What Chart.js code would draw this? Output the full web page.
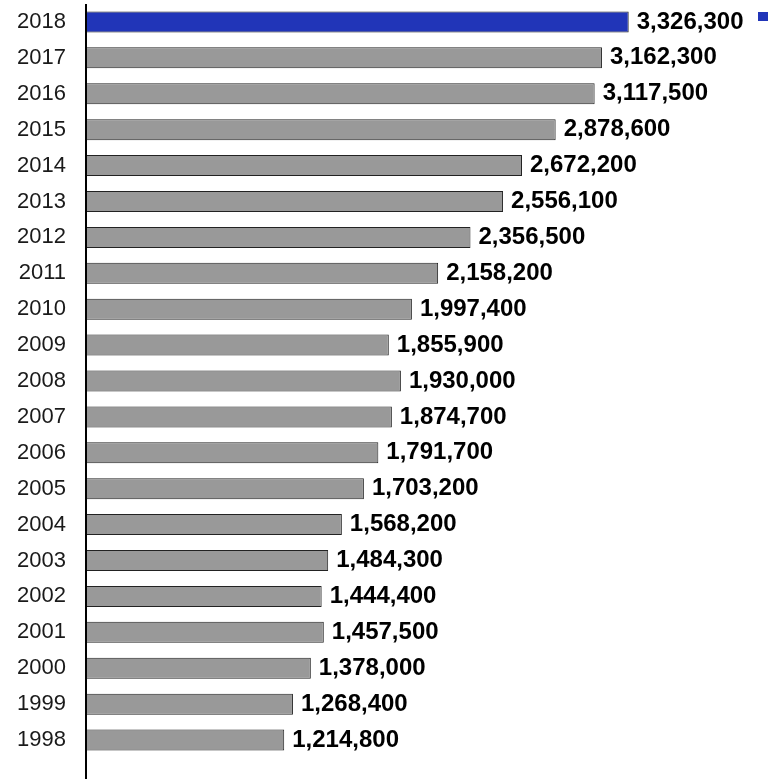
<!DOCTYPE html>
<html>
<head>
<meta charset="utf-8">
<script src="https://cdn.jsdelivr.net/npm/chart.js@4.4.1/dist/chart.umd.min.js"></script>
<style>
  body { margin: 0; background: #fff; }
  canvas { display: block; }
</style>
</head>
<body>
<canvas id="mycanvas" width="768" height="779"></canvas>
<script>
var years = ['2018','2017','2016','2015','2014','2013','2012','2011','2010','2009','2008',
             '2007','2006','2005','2004','2003','2002','2001','2000','1999','1998'];
var counts = [3326300,3162300,3117500,2878600,2672200,2556100,2356500,2158200,1997400,1855900,1930000,
              1874700,1791700,1703200,1568200,1484300,1444400,1457500,1378000,1268400,1214800];
var highlightYear = '2018';

var barColors = years.map(function(y){ return y === highlightYear ? '#2135b8' : '#999999'; });

// value labels at the end of each bar
var valueLabels = {
	id:'valueLabels',
	afterDatasetsDraw:function(chart){
		var ctx = chart.ctx;
		var meta = chart.getDatasetMeta(0);
		ctx.save();
		ctx.font = 'bold 24px "Liberation Sans", Arial, sans-serif';
		ctx.fillStyle = '#000';
		ctx.textAlign = 'left';
		ctx.textBaseline = 'middle';
		meta.data.forEach(function(bar, i){
			ctx.fillText(counts[i].toLocaleString('en-US'), bar.x + 8, bar.y);
		});
		ctx.restore();
	}
};

// axis line running down to the bottom edge + the clipped legend marker
var axisLine = {
	id:'axisLine',
	afterDraw:function(chart){
		var ctx = chart.ctx;
		var a = chart.chartArea;
		ctx.save();
		ctx.strokeStyle = '#000';
		ctx.lineWidth = 2;
		ctx.beginPath();
		ctx.moveTo(a.left, a.top);
		ctx.lineTo(a.left, chart.height);
		ctx.stroke();
		ctx.fillStyle = '#2135b8';
		ctx.fillRect(758, 12, 10, 9);
		ctx.restore();
	}
};

var ctx = document.getElementById('mycanvas');
var barGraph = new Chart(ctx, {
	type:'bar',
	data:{
		labels:years,
		datasets:[{
			label:'Count',
			data:counts,
			backgroundColor:barColors,
			borderColor:'#222',
			borderWidth:1,
			borderSkipped:false,
			barPercentage:0.585,
			categoryPercentage:1
		}]
	},
	options:{
		indexAxis:'y',
		responsive:false,
		animation:false,
		layout:{ padding:{ top:4, bottom:21, left:0, right:0 } },
		plugins:{
			legend:{ display:false },
			tooltip:{ enabled:false }
		},
		scales:{
			x:{
				display:false,
				min:0,
				max:4180000
			},
			y:{
				grid:{ display:false },
				border:{ display:false },
				ticks:{
					color:'#1a1a1a',
					padding:12,
					font:{ family:'"Liberation Sans", Arial, sans-serif', size:22 }
				},
				afterFit:function(scale){
					scale.width = 86;
					scale.paddingTop = 0;
					scale.paddingBottom = 0;
				}
			}
		}
	},
	plugins:[valueLabels, axisLine]
});
</script>
</body>
</html>
